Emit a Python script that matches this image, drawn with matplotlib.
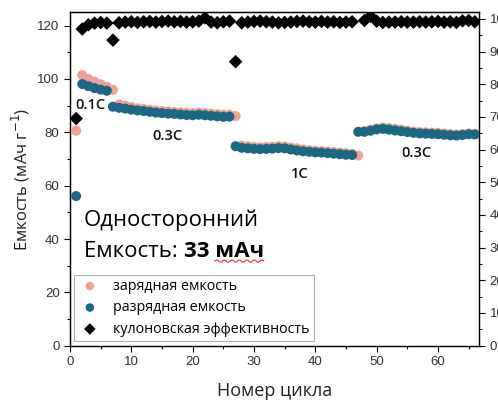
import numpy as np
import matplotlib
matplotlib.use('Agg')
import matplotlib.pyplot as plt
from matplotlib.ticker import MultipleLocator

# цикл
cycles = list(range(1, 67))

# зарядная емкость (мАч/г)
charge = [80.6,
          101.5, 100.0, 99.0, 98.0, 97.0, 95.9,
          90.5, 90.0, 89.5, 89.0, 88.8, 88.5, 88.2, 88.0, 87.8, 87.6,
          87.5, 87.3, 87.2, 87.4, 87.2, 87.0, 86.8, 86.6, 86.6,
          86.1,
          75.0, 74.8, 74.5, 74.4, 74.5, 74.6, 74.8, 74.7, 74.3, 74.0,
          73.6, 73.3, 73.1, 73.0, 72.8, 72.6, 72.4, 72.2, 72.0,
          71.3,
          80.5, 81.0, 81.5, 81.8, 81.6, 81.3, 81.0, 80.6, 80.3, 80.1,
          80.0, 79.9, 79.8, 79.6, 79.4, 79.2, 79.4, 79.6, 79.5]

# разрядная емкость (мАч/г)
discharge = [56.1,
             98.1, 97.3, 96.6, 96.0, 95.6,
             89.6,
             89.2, 88.9, 88.5, 88.2, 88.0, 87.7, 87.4, 87.2, 87.0, 86.9,
             86.7, 86.5, 86.4, 86.6, 86.4, 86.2, 86.0, 85.8, 85.9,
             74.8,
             74.2, 74.0, 73.8, 73.7, 73.8, 73.9, 74.1, 74.0, 73.6, 73.2,
             72.9, 72.7, 72.5, 72.4, 72.2, 72.0, 71.8, 71.6, 71.5,
             80.2,
             80.2, 80.6, 81.1, 81.3, 81.0, 80.7, 80.4, 80.1, 79.8, 79.6,
             79.5, 79.4, 79.3, 79.1, 78.9, 78.8, 79.0, 79.3, 79.2]

# кулоновская эффективность (%)
ce = [69.5,
      96.9, 98.2, 98.7, 98.9, 98.7,
      93.5,
      98.8, 99.0, 99.1, 98.9, 99.1, 99.2, 99.0, 99.2, 99.3, 99.1,
      99.2, 99.0, 99.1, 99.3, 100.3, 99.0, 98.8, 99.1, 99.3,
      86.9,
      98.8, 99.0, 99.2, 99.3, 99.1, 99.0, 98.8, 98.9, 99.0, 99.2,
      99.3, 99.1, 99.0, 99.2, 99.0, 99.1, 98.9, 99.0, 99.1,
      112.3,
      99.5, 100.8, 99.3, 98.9, 99.0, 99.0, 99.1, 99.0, 99.0, 99.1,
      99.0, 99.1, 99.2, 99.0, 99.1, 98.9, 99.4, 99.5, 99.1]

rate_labels = ['0.1C', '0.3C', '1C', '0.3C']
rate_x = [3.4, 15.9, 37.4, 56.5]
rate_y = [90.2, 78.6, 64.4, 72.2]

pink = '#f2a096'
teal = '#1c6882'
label_font = ['Open Sans', 'DejaVu Sans']
tick_font = 'Liberation Sans'

fig = plt.figure(figsize=(4.98, 4.0), dpi=100)
ax = fig.add_axes([0.1406, 0.1358, 0.8214, 0.8334])
ax2 = ax.twinx()

s1 = ax.scatter(cycles, charge, s=52, color=pink, edgecolors='none', zorder=3,
                label='зарядная емкость')
s2 = ax.scatter(cycles, discharge, s=52, color=teal, edgecolors='none', zorder=4,
                label='разрядная емкость')
s3 = ax2.scatter(cycles, ce, s=48, marker='D', color='black', edgecolors='none',
                 zorder=5, label='кулоновская эффективность')

ax.set_xlim(0, 66.7)
ax.set_ylim(0, 125)
ax2.set_ylim(0, 102)

ax.xaxis.set_major_locator(MultipleLocator(10))
ax.xaxis.set_minor_locator(MultipleLocator(5))
ax.yaxis.set_major_locator(MultipleLocator(20))
ax.yaxis.set_minor_locator(MultipleLocator(10))
ax2.yaxis.set_major_locator(MultipleLocator(10))
ax2.yaxis.set_minor_locator(MultipleLocator(5))

for a in (ax, ax2):
    a.tick_params(which='major', direction='out', length=4, width=0.8,
                  labelsize=9.5, colors='black')
    a.tick_params(which='minor', direction='out', length=2.5, width=0.8)
    for sp in a.spines.values():
        sp.set_linewidth(0.9)
    for lab in a.get_xticklabels() + a.get_yticklabels():
        lab.set_family(tick_font)
        lab.set_color('#333333')
ax.tick_params(axis='y', which='both', right=False)
ax.tick_params(axis='x', which='both', top=False)

ax.set_xlabel('Номер цикла', family=label_font, fontsize=13, color='#222222',
              labelpad=10)
ax.set_ylabel('Емкость (мАч г$^{-1}$)', family=label_font, fontsize=12,
              color='#222222', labelpad=4)

for txt, xx, yy in zip(rate_labels, rate_x, rate_y):
    ax.text(xx, yy, txt, family=label_font, fontsize=10.5, fontweight='semibold',
            ha='center', va='center', color='#111111', zorder=6)

ax.text(2.3, 44.9, 'Односторонний', family=label_font, fontsize=16,
        color='black', va='baseline', ha='left')
t1 = ax.text(2.3, 33.4, 'Емкость: ', family=label_font, fontsize=16,
             color='black', va='baseline', ha='left')
fig.canvas.draw()
bb = t1.get_window_extent()
x_next = ax.transData.inverted().transform((bb.x1, bb.y0))[0]
t2 = ax.text(x_next, 33.4, '33 мАч', family=label_font, fontsize=16,
             fontweight='bold', color='black', va='baseline', ha='left')

# красное волнистое подчёркивание (проверка орфографии) под "мАч"
t3 = ax.text(x_next, 33.4, '33 ', family=label_font, fontsize=16,
             fontweight='bold', alpha=0, va='baseline', ha='left')
fig.canvas.draw()
bb2 = t2.get_window_extent()
w_start = t3.get_window_extent().x1
base_px = ax.transData.transform((0, 33.4))[1]
wx = np.linspace(w_start, bb2.x1, 60)
wy = base_px - 4.5 + 1.1 * np.sin((wx - w_start) / 1.2)
wpts = ax.transData.inverted().transform(np.column_stack([wx, wy]))
ax.plot(wpts[:, 0], wpts[:, 1], color='#e03030', lw=0.8, zorder=6)

leg = ax.legend(handles=[s1, s2, s3], loc='lower left',
                bbox_to_anchor=(0.01, 0.014), frameon=True, fancybox=False,
                edgecolor='#999999', prop={'family': label_font, 'size': 10.3},
                handletextpad=0.8, borderpad=0.3, labelspacing=0.45,
                borderaxespad=0, markerscale=0.85, handlelength=1.6)
leg.get_frame().set_linewidth(0.8)
leg.set_zorder(10)
ax.set_zorder(ax2.get_zorder() + 1)
ax.patch.set_visible(False)

fig.savefig('out.png', dpi=100)
